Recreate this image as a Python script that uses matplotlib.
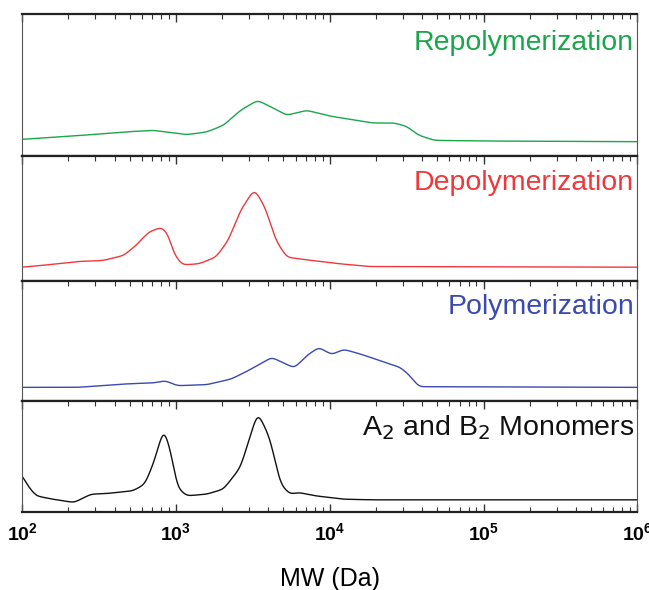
import numpy as np
import matplotlib
matplotlib.use('Agg')
import matplotlib.pyplot as plt
from matplotlib.ticker import LogLocator, NullFormatter, NullLocator

plt.rcParams['font.family'] = ['Liberation Sans', 'DejaVu Sans']

# molecular weight (Da) and detector response
repoly_mw = [100, 245, 457, 710, 1170, 1585, 2040, 2630, 3400, 4370, 5250, 7080,
             10200, 14100, 19000, 26300, 31600, 38000, 48000, 100000, 1000000]
repoly_y = [50, 62, 72, 77, 64, 72, 92, 137, 167, 142, 122, 137,
            119, 109, 99, 99, 89, 62, 47, 45, 43]

depoly_mw = [100, 132, 230, 335, 457, 550, 664, 806, 890, 970, 1100, 1410, 1820,
             2190, 2630, 3240, 3800, 4470, 5250, 7080, 11750, 18000, 1000000]
depoly_y = [40, 45, 57, 60, 75, 105, 145, 160, 140, 80, 47, 50, 70,
            120, 210, 274, 220, 120, 70, 62, 50, 42, 40]

poly_mw = [100, 230, 457, 710, 855, 1020, 1585, 2290, 2950, 4200, 4900, 5900, 7080,
           8500, 10300, 12300, 15800, 22900, 28700, 32400, 38000, 1000000]
poly_y = [40, 40, 50, 53, 60, 45, 48, 65, 90, 130, 115, 98, 135,
          160, 138, 154, 140, 115, 100, 80, 42, 40]

mono_mw = [100, 107, 123, 158, 218, 280, 355, 525, 630, 725, 835, 935, 1020, 1175,
           1585, 2040, 2630, 3400, 4070, 4790, 5500, 6300, 8100, 12300, 19000, 1000000]
mono_y = [112, 82, 47, 37, 27, 52, 54, 62, 82, 152, 252, 172, 72, 47,
          52, 67, 132, 298, 222, 82, 52, 57, 47, 37, 35, 35]

labels = ['Repolymerization', 'Depolymerization', 'Polymerization', 'A$_2$ and B$_2$ Monomers']
colors = ['#1aa64b', '#f0383c', '#3a4aae', '#111111']
series = [(repoly_mw, repoly_y), (depoly_mw, depoly_y), (poly_mw, poly_y), (mono_mw, mono_y)]
ytops = [425, 373, 360, 332]


def smooth_curve(mw, y):
    lx = np.log10(mw)
    xs = np.linspace(lx[0], lx[-1], 2000)
    ys = np.interp(xs, lx, y)
    g = np.arange(-30, 31)
    k = np.exp(-0.5 * (g / 9.0) ** 2)
    k /= k.sum()
    ys = np.convolve(np.pad(ys, 30, mode='edge'), k, mode='valid')
    return 10 ** xs, ys


fig = plt.figure(figsize=(6.49, 5.9), dpi=100)
gs = fig.add_gridspec(4, 1, height_ratios=ytops, hspace=0,
                      left=0.034, right=0.982, top=0.976, bottom=0.133)

axes = []
for i, ((mw, y), lab, col, top) in enumerate(zip(series, labels, colors, ytops)):
    ax = fig.add_subplot(gs[i])
    xs, ys = smooth_curve(mw, y)
    ax.plot(xs, ys, color=col, lw=1.0)
    ax.set_xscale('log')
    ax.set_xlim(1e2, 1e6)
    ax.set_ylim(0, top)
    ax.yaxis.set_major_locator(NullLocator())
    ax.xaxis.set_major_locator(LogLocator(base=10))
    ax.xaxis.set_minor_locator(LogLocator(base=10, subs=np.arange(2, 10)))
    ax.xaxis.set_minor_formatter(NullFormatter())
    last = i == 3
    ax.tick_params(axis='x', which='both', direction='in', top=True, bottom=last,
                   labelbottom=last, color='#333333')
    ax.tick_params(axis='x', which='major', length=6, width=1.0)
    ax.tick_params(axis='x', which='minor', length=3.5, width=0.8)
    for s in ['top', 'bottom']:
        ax.spines[s].set_linewidth(1.6)
        ax.spines[s].set_color('#222222')
    for s in ['left', 'right']:
        ax.spines[s].set_linewidth(0.8)
        ax.spines[s].set_color('#555555')
    ax.text(0.995, 0.89, lab, transform=ax.transAxes, ha='right', va='top',
            color=col, fontsize=20.5)
    axes.append(ax)

axes[-1].tick_params(axis='x', which='major', labelsize=14, pad=8)
for t in axes[-1].get_xticklabels():
    t.set_fontweight('bold')
axes[-1].set_xlabel('MW (Da)', fontsize=18, labelpad=16)

fig.savefig('out.png', dpi=100)
